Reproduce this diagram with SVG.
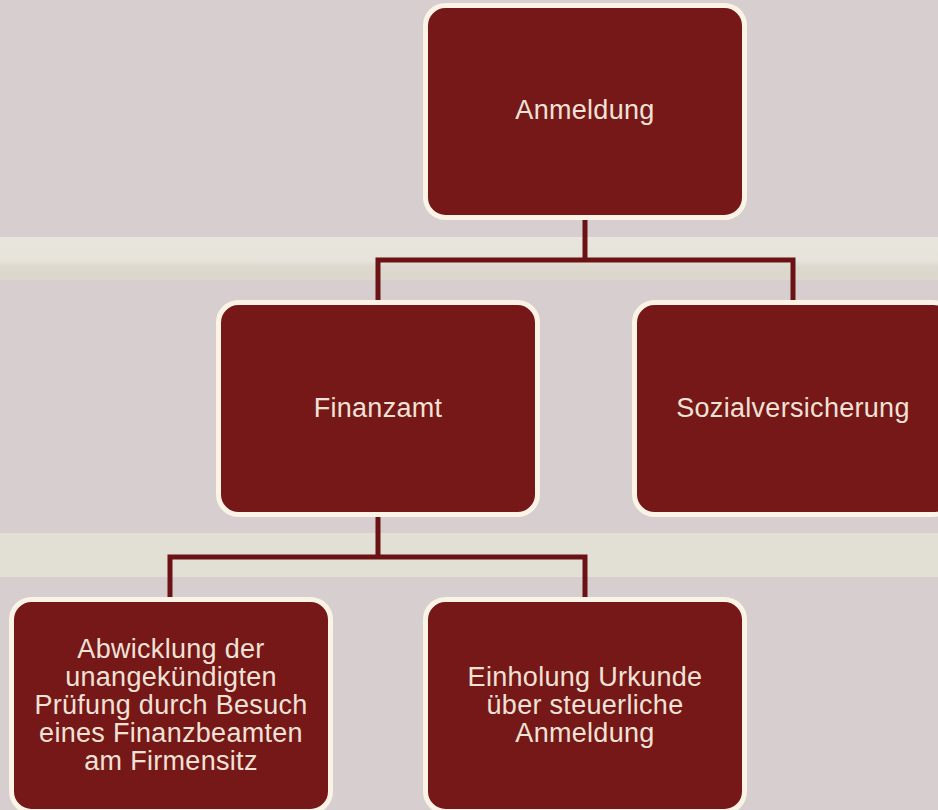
<svg xmlns="http://www.w3.org/2000/svg" width="938" height="810" viewBox="0 0 938 810">
  <defs>
    <linearGradient id="band1" x1="0" y1="0" x2="0" y2="1">
      <stop offset="0" stop-color="#e8e5dc"/>
      <stop offset="0.55" stop-color="#e7e3da"/>
      <stop offset="0.7" stop-color="#dcd8cd"/>
      <stop offset="1" stop-color="#dbd7cc"/>
    </linearGradient>
    <style>
      .box { fill: #761718; stroke: #faf3e6; stroke-width: 5; }
      .lbl { font-family: "Liberation Sans", Arial, sans-serif; font-size: 27px; letter-spacing: 0.3px; fill: #f0e2d6; text-anchor: middle; }
      .conn { fill: none; stroke: #6a1214; stroke-width: 5; stroke-linejoin: miter; }
    </style>
  </defs>
  <rect x="0" y="0" width="938" height="810" fill="#d7cfcf"/>
  <rect x="0" y="237" width="938" height="43" fill="url(#band1)"/>
  <rect x="0" y="533" width="938" height="44" fill="#e2dfd5"/>

  <g id="connectors">
    <path class="conn" d="M585 220 V260 M378 300 V260 H793 V300"/>
    <path class="conn" d="M378 517 V557 M170 597 V557 H585 V597"/>
  </g>

  <g id="node-anmeldung">
    <rect class="box" x="425.5" y="5.5" width="319" height="212" rx="20"/>
    <text class="lbl" x="585" y="119">Anmeldung</text>
  </g>
  <g id="node-finanzamt">
    <rect class="box" x="218.5" y="302.5" width="319" height="212" rx="20"/>
    <text class="lbl" x="378" y="417">Finanzamt</text>
  </g>
  <g id="node-sozialversicherung">
    <rect class="box" x="634.5" y="302.5" width="319" height="212" rx="20"/>
    <text class="lbl" x="793" y="417">Sozialversicherung</text>
  </g>
  <g id="node-abwicklung">
    <rect class="box" x="11.5" y="599.5" width="319" height="212" rx="20"/>
    <text class="lbl" x="171" y="658">Abwicklung der</text>
    <text class="lbl" x="171" y="686">unangekündigten</text>
    <text class="lbl" x="171" y="714">Prüfung durch Besuch</text>
    <text class="lbl" x="171" y="742">eines Finanzbeamten</text>
    <text class="lbl" x="171" y="770">am Firmensitz</text>
  </g>
  <g id="node-einholung">
    <rect class="box" x="425.5" y="599.5" width="319" height="212" rx="20"/>
    <text class="lbl" x="585" y="686">Einholung Urkunde</text>
    <text class="lbl" x="585" y="714">über steuerliche</text>
    <text class="lbl" x="585" y="742">Anmeldung</text>
  </g>
</svg>
